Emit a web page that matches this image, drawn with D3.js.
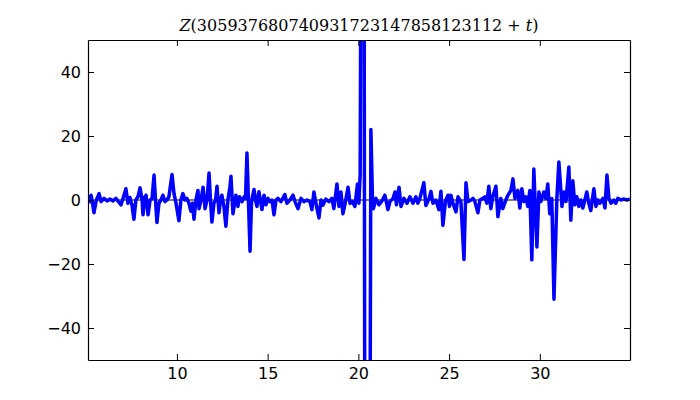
<!DOCTYPE html>
<html>
<head>
<meta charset="utf-8">
<script src="https://cdn.jsdelivr.net/npm/d3@7"></script>
<style>
  body { margin: 0; background: #fff; }
  .tick text { font-family: "DejaVu Sans", sans-serif; font-size: 16px; fill: #000; }
  .domain { stroke: #000; }
  .tick line { stroke: #000; }
</style>
</head>
<body>
<div id="chart"></div>
<script>
// t values
var tVals = [5.10,5.21,5.27,5.32,5.43,5.54,5.60,5.71,5.82,5.98,6.15,6.31,6.48,6.64,6.75,6.92,7.03,7.19,7.30,7.41,
  7.52,7.63,7.74,7.85,7.97,8.08,8.13,8.24,8.30,8.41,8.52,8.63,8.74,8.82,8.90,9.01,9.12,9.23,9.34,9.45,
  9.56,9.73,9.84,9.95,10.11,10.22,10.33,10.44,10.55,10.66,10.77,10.86,10.94,11.05,11.16,11.22,11.33,11.44,11.55,11.66,
  11.77,11.85,11.93,12.04,12.13,12.21,12.32,12.40,12.48,12.59,12.70,12.81,12.92,12.98,13.03,13.09,13.20,13.25,13.36,13.45,
  13.59,13.70,13.78,13.86,13.94,14.03,14.11,14.16,14.25,14.33,14.41,14.52,14.60,14.69,14.80,14.91,15.02,15.13,15.24,15.35,
  15.46,15.57,15.73,15.95,16.06,16.23,16.40,16.51,16.67,16.84,17.00,17.17,17.33,17.44,17.55,17.72,17.83,17.94,18.05,18.21,
  18.38,18.54,18.65,18.82,18.93,19.04,19.15,19.29,19.43,19.54,19.67,19.81,19.95,20.03,20.10,20.13,20.22,20.32,20.35,20.50,
  20.65,20.69,20.78,20.83,20.97,21.13,21.30,21.46,21.63,21.74,21.91,22.02,22.10,22.24,22.35,22.51,22.68,22.84,23.01,23.17,
  23.28,23.39,23.61,23.72,23.89,24.00,24.11,24.27,24.44,24.55,24.66,24.80,24.94,25.02,25.10,25.21,25.38,25.49,25.65,25.82,
  25.93,26.04,26.21,26.32,26.42,26.59,26.70,26.86,26.97,27.08,27.19,27.30,27.41,27.58,27.69,27.85,27.96,28.13,28.24,28.41,
  28.52,28.63,28.79,28.90,29.01,29.12,29.23,29.34,29.45,29.56,29.67,29.84,29.95,30.06,30.22,30.33,30.44,30.55,30.66,30.78,
  30.94,31.05,31.22,31.33,31.44,31.60,31.71,31.82,31.93,32.04,32.15,32.26,32.37,32.59,32.70,32.81,32.98,33.09,33.20,33.31,
  33.48,33.59,33.70,33.81,33.92,34.08,34.19,34.30,34.47,34.64,34.80,34.96];

// Z values at those t
var zVals = [1.5,-0.5,1.5,0,-4,-0.5,0.5,2,-0.5,0.5,-0.3,0.3,-0.3,0.5,-0.3,-1.5,0.5,3.5,-1,0.8,
  -1.5,-6,0,1,3.8,0,-4.6,1,1.5,-4.6,0,0.5,7.8,0,-7,-1,0,1.5,-0.5,0,
  1,8,2,-1,-6.5,0,2,0,0.5,-1,-3.5,-1,-6,0,3,-2.7,0,4,-2.7,0,
  8.4,0,-6.9,-1,0,4.3,-4,0,1.5,-2,-8.2,0,4,7.4,2,-4.3,0,1.5,-2,1,
  -0.5,1,0.5,14.7,0,-16,-1,1,3.3,0,-2,2.6,0,-3,1.5,-1.5,0.5,-0.5,0,-4.6,
  0,0.5,-0.5,1.7,-1,0,1.5,-0.5,-2.7,0.5,-0.5,0,-0.5,-3,2.5,-2.7,-5.6,0,-1.6,0.3,
  -0.5,0.5,-2.7,5,-2,2.5,-4.3,-0.5,4,-1,-0.5,-2,5,-1,8,60,250,60,-60,-250,
  -60,22,0,-2.7,0.5,-1.5,-0.3,1.5,-3,-0.5,0.5,2.5,-1.5,4,-2,0.5,-1,1,-1,1,
  -1,0.5,5.4,-1.7,0.3,2.7,-1,0,-3,2.7,-7.9,-0.3,1.5,-2,1.5,-1,-3.7,1,-0.5,-18.6,
  5.4,-0.5,0,0.5,-0.5,-4,0,0.5,1,-1,4.3,-2.7,1,4.3,-5.2,0.5,-2.7,0,1.5,3,
  6.6,0.5,3,-2.5,3.5,-0.5,1,-2,3,-18.7,9.7,-14.7,2.5,-0.5,2.5,0.5,5,-4.3,0.5,-31,
  0.5,11.9,-2,2.5,-0.5,10.3,-6.3,6,-1.5,1,-2,0,-2.5,2.5,-1,-3.3,3.5,-2,0,-1,
  0.5,-2.5,7.8,0.5,-1,0,-1,0.5,0,0.3,0,0.3];

var xTicks = [10, 15, 20, 25, 30];
var yTicks = [-40, -20, 0, 20, 40];

var width = 700, height = 400;
var margin = { top: 40, right: 70, bottom: 40, left: 88 };

var svg = d3.select("#chart").append("svg")
  .attr("width", width)
  .attr("height", height);

var x = d3.scaleLinear()
  .domain([5.1, 34.97])
  .range([margin.left, width - margin.right]);

var y = d3.scaleLinear()
  .domain([-50, 50])
  .range([height - margin.bottom, margin.top]);

var pts = tVals.map(function(t, i) { return [t, zVals[i]]; });

svg.append("clipPath").attr("id", "clip")
  .append("rect")
  .attr("x", margin.left).attr("y", margin.top)
  .attr("width", width - margin.left - margin.right)
  .attr("height", height - margin.top - margin.bottom);

// zero line
svg.append("line")
  .attr("x1", x(5.1)).attr("x2", x(34.97))
  .attr("y1", y(0)).attr("y2", y(0))
  .attr("stroke", "#000").attr("stroke-width", 1);

svg.append("path")
  .datum(pts)
  .attr("clip-path", "url(#clip)")
  .attr("fill", "none")
  .attr("stroke", "#0000ff")
  .attr("stroke-width", 3.5)
  .attr("stroke-linejoin", "round")
  .attr("d", d3.line()
    .x(function(d) { return x(d[0]); })
    .y(function(d) { return y(d[1]); }));

// axes, ticks inside on all four sides
svg.append("g")
  .attr("transform", "translate(0," + (height - margin.bottom) + ")")
  .call(d3.axisBottom(x).tickValues(xTicks).tickSizeInner(-6).tickSizeOuter(0).tickPadding(8));

svg.append("g")
  .attr("transform", "translate(0," + margin.top + ")")
  .call(d3.axisTop(x).tickValues(xTicks).tickSizeInner(-6).tickSizeOuter(0).tickFormat(""));

svg.append("g")
  .attr("transform", "translate(" + margin.left + ",0)")
  .call(d3.axisLeft(y).tickValues(yTicks).tickSizeInner(-6).tickSizeOuter(0).tickPadding(7));

svg.append("g")
  .attr("transform", "translate(" + (width - margin.right) + ",0)")
  .call(d3.axisRight(y).tickValues(yTicks).tickSizeInner(-6).tickSizeOuter(0).tickFormat(""));

svg.selectAll(".domain").attr("stroke-width", 1.2);

// title
var title = svg.append("text")
  .attr("x", (margin.left + width - margin.right) / 2)
  .attr("y", 31)
  .attr("text-anchor", "middle")
  .attr("font-family", "DejaVu Serif, serif")
  .attr("font-size", "16px");
title.append("tspan").attr("font-style", "italic").text("Z");
title.append("tspan").text("(305937680740931723147858123112 + ");
title.append("tspan").attr("font-style", "italic").text("t");
title.append("tspan").text(")");
</script>
</body>
</html>
